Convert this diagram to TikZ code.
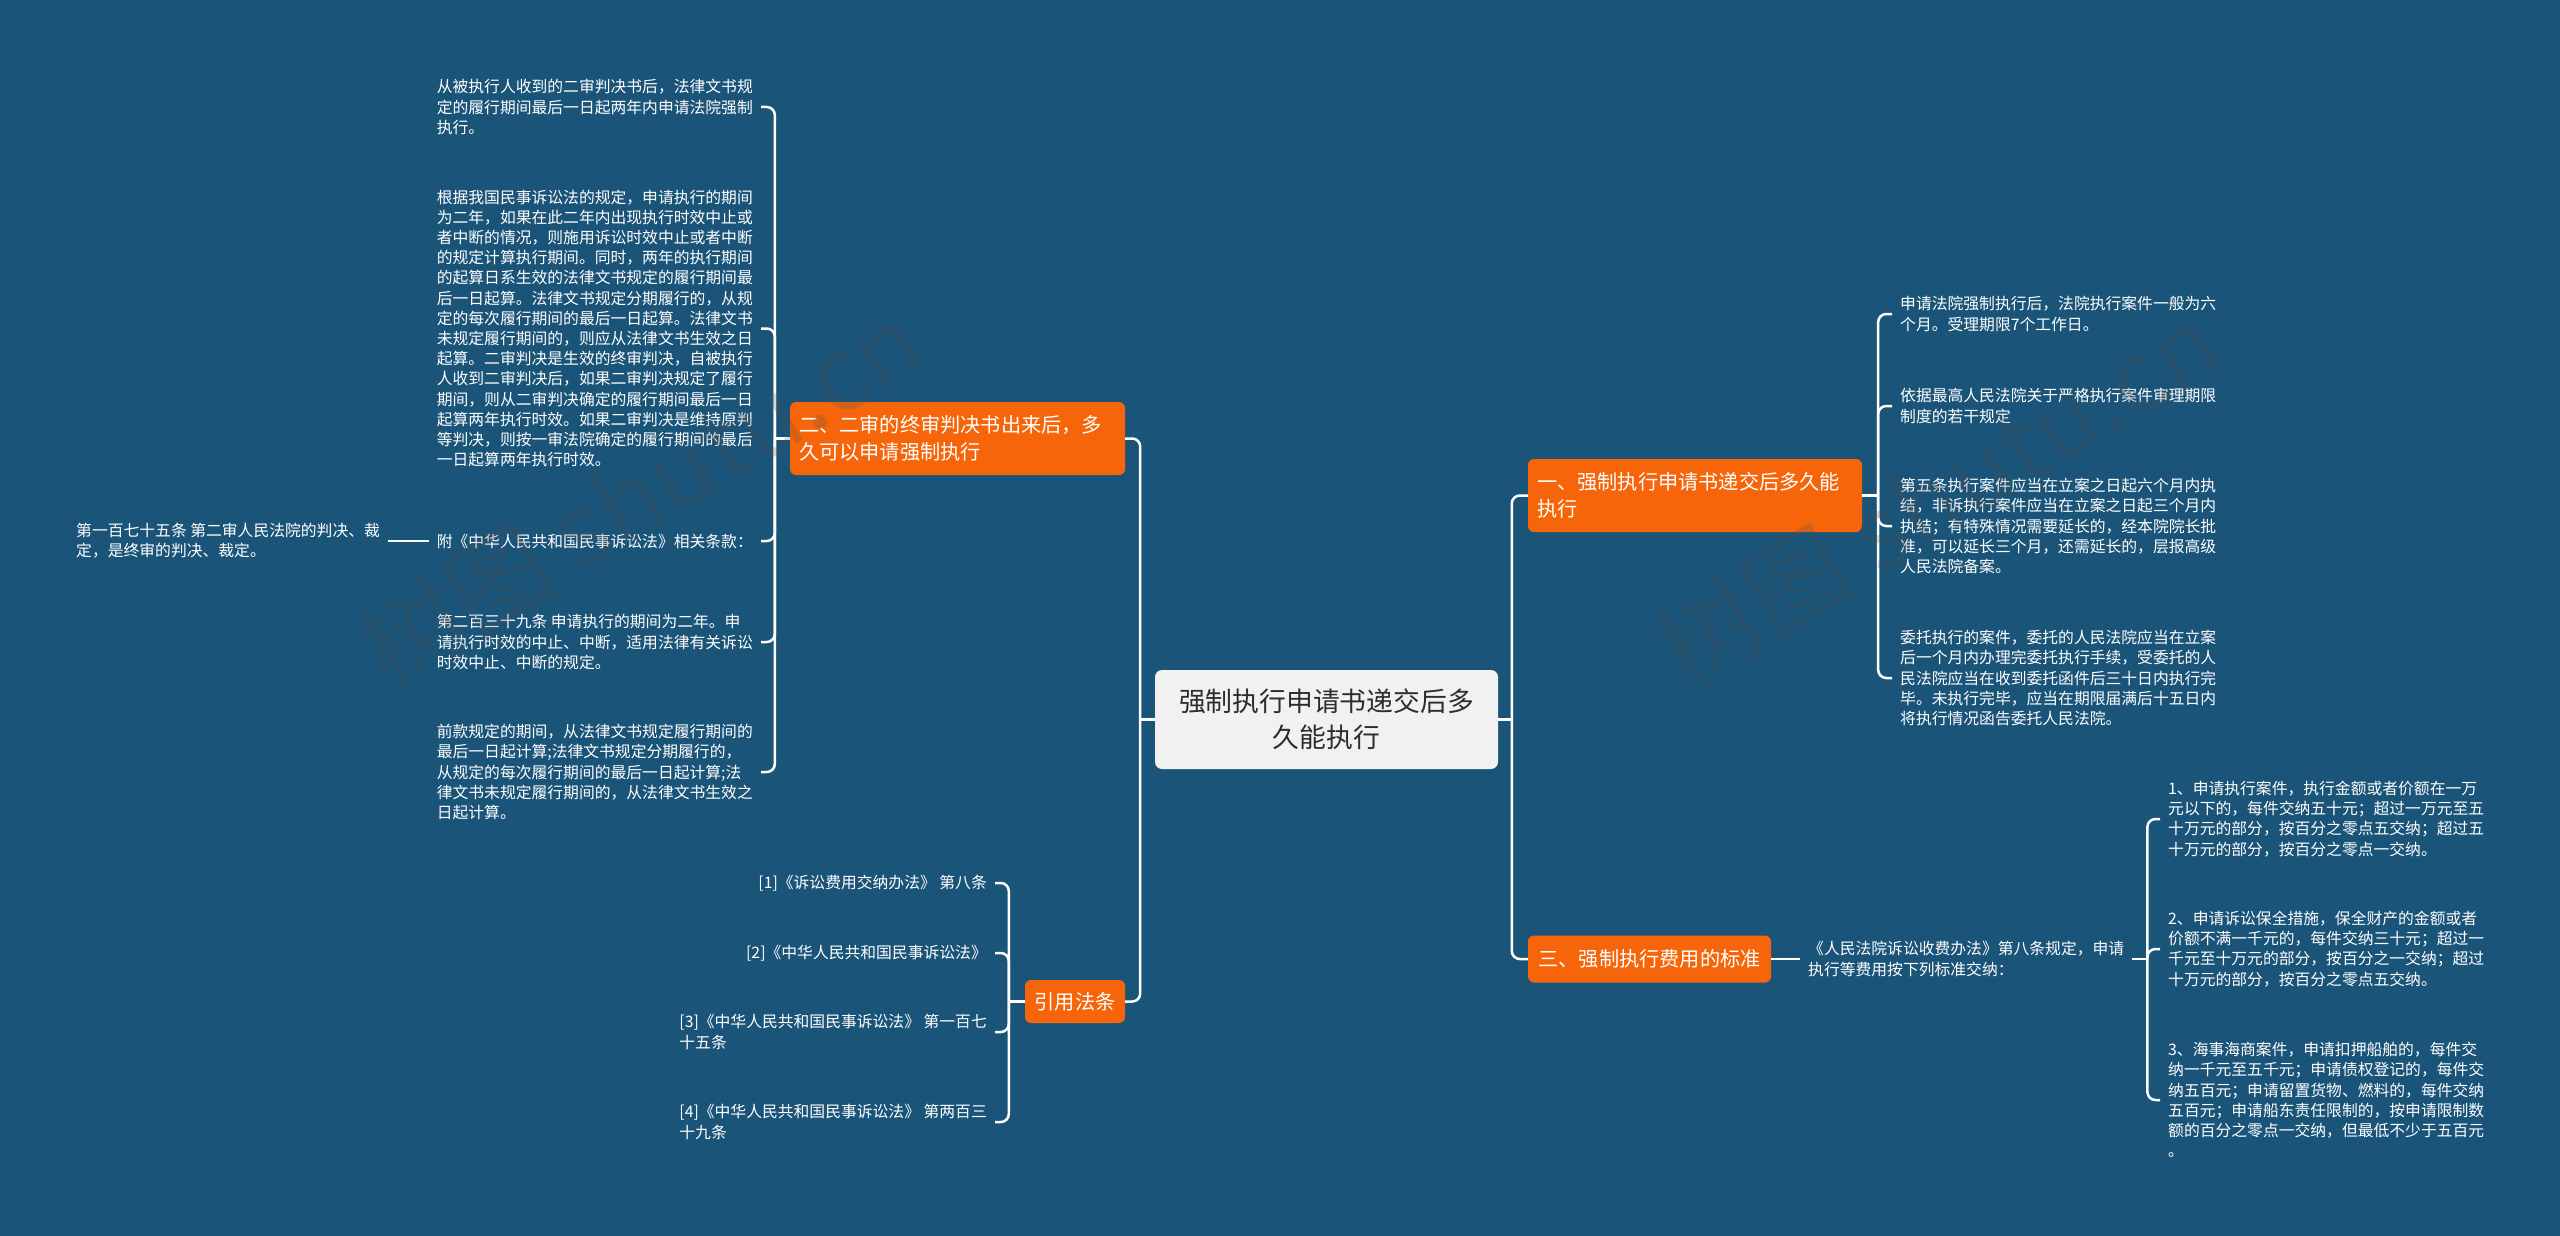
\documentclass[tikz,border=0pt]{standalone}
\usepackage{fontspec}
\setmainfont{Noto Sans CJK SC}
\usepackage{tikz}
\usetikzlibrary{positioning}
\definecolor{bgblue}{RGB}{26,84,121}
\definecolor{branchorange}{RGB}{246,101,10}
\definecolor{rootgray}{RGB}{241,241,241}
\definecolor{rootink}{RGB}{45,45,45}
\definecolor{stampgray}{RGB}{80,80,80}

\tikzset{
  root/.style={fill=rootgray, text=rootink, rounded corners=7pt, align=center,
    font=\fontsize{26.8pt}{36pt}\selectfont, inner sep=0pt},
  branch/.style={fill=branchorange, text=white, rounded corners=6pt, align=left,
    font=\fontsize{20.2pt}{27pt}\selectfont, inner xsep=9pt, inner ysep=0pt},
  leaf/.style={text=white, align=left, font=\fontsize{15.8pt}{20.2pt}\selectfont,
    inner xsep=8pt, inner ysep=0pt},
  link/.style={draw=white, line width=2.5pt, rounded corners=8pt},
  stamp/.style={text=stampgray, opacity=0.22, rotate=31, font=\fontsize{101pt}{101pt}\selectfont},
}

\begin{document}
\begin{tikzpicture}[x=1pt,y=-1pt]
              % background
              \fill[bgblue] (0,0) rectangle (2560,1236);
              % centre and the four branches
              \node[root, minimum width=343pt, minimum height=99pt] (root) at (1326.5,719.5) {强制执行申请书递交后多\\久能执行};
              \node[branch, text width=316pt, minimum height=73pt] (n1) at (1695,495.5) {一、强制执行申请书递交后多久能\\执行};
              \node[branch, minimum width=243pt, minimum height=47pt] (n3) at (1649.5,959) {三、强制执行费用的标准};
              \node[branch, text width=317pt, minimum height=73pt] (n2) at (957.5,438.5) {二、二审的终审判决书出来后，多\\久可以申请强制执行};
              \node[branch, minimum width=100pt, minimum height=43pt] (n4) at (1075,1001.5) {引用法条};
              % leaves of the first branch
              \node[leaf, anchor=west] (a1) at (1892,314) {申请法院强制执行后，法院执行案件一般为六\\个月。受理期限7个工作日。};
              \node[leaf, anchor=west] (a2) at (1892,406) {依据最高人民法院关于严格执行案件审理期限\\制度的若干规定};
              \node[leaf, anchor=west] (a3) at (1892,526) {第五条执行案件应当在立案之日起六个月内执\\结，非诉执行案件应当在立案之日起三个月内\\执结；有特殊情况需要延长的，经本院院长批\\准，可以延长三个月，还需延长的，层报高级\\人民法院备案。};
              \node[leaf, anchor=west] (a4) at (1892,678) {委托执行的案件，委托的人民法院应当在立案\\后一个月内办理完委托执行手续，受委托的人\\民法院应当在收到委托函件后三十日内执行完\\毕。未执行完毕，应当在期限届满后十五日内\\将执行情况函告委托人民法院。};
              % leaves of the third branch
              \node[leaf, anchor=west] (c3) at (1800,959) {《人民法院诉讼收费办法》第八条规定，申请\\执行等费用按下列标准交纳：};
              \node[leaf, anchor=west] (b1) at (2160,819) {1、申请执行案件，执行金额或者价额在一万\\元以下的，每件交纳五十元；超过一万元至五\\十万元的部分，按百分之零点五交纳；超过五\\十万元的部分，按百分之零点一交纳。};
              \node[leaf, anchor=west] (b2) at (2160,949) {2、申请诉讼保全措施，保全财产的金额或者\\价额不满一千元的，每件交纳三十元；超过一\\千元至十万元的部分，按百分之一交纳；超过\\十万元的部分，按百分之零点五交纳。};
              \node[leaf, anchor=west] (b3) at (2160,1100) {3、海事海商案件，申请扣押船舶的，每件交\\纳一千元至五千元；申请债权登记的，每件交\\纳五百元；申请留置货物、燃料的，每件交纳\\五百元；申请船东责任限制的，按申请限制数\\额的百分之零点一交纳，但最低不少于五百元\\。};
              % leaves of the second branch
              \node[leaf, anchor=east] (l1) at (761,107) {从被执行人收到的二审判决书后，法律文书规\\定的履行期间最后一日起两年内申请法院强制\\执行。};
              \node[leaf, anchor=east] (l2) at (761,328.5) {根据我国民事诉讼法的规定，申请执行的期间\\为二年，如果在此二年内出现执行时效中止或\\者中断的情况，则施用诉讼时效中止或者中断\\的规定计算执行期间。同时，两年的执行期间\\的起算日系生效的法律文书规定的履行期间最\\后一日起算。法律文书规定分期履行的，从规\\定的每次履行期间的最后一日起算。法律文书\\未规定履行期间的，则应从法律文书生效之日\\起算。二审判决是生效的终审判决，自被执行\\人收到二审判决后，如果二审判决规定了履行\\期间，则从二审判决确定的履行期间最后一日\\起算两年执行时效。如果二审判决是维持原判\\等判决，则按一审法院确定的履行期间的最后\\一日起算两年执行时效。};
              \node[leaf, anchor=east] (l3) at (761,541) {附《中华人民共和国民事诉讼法》相关条款：};
              \node[leaf, anchor=west] (l0) at (68,541) {第一百七十五条 第二审人民法院的判决、裁\\定，是终审的判决、裁定。};
              \node[leaf, anchor=east] (l4) at (761,642) {第二百三十九条 申请执行的期间为二年。申\\请执行时效的中止、中断，适用法律有关诉讼\\时效中止、中断的规定。};
              \node[leaf, anchor=east] (l5) at (761,772) {前款规定的期间，从法律文书规定履行期间的\\最后一日起计算;法律文书规定分期履行的，\\从规定的每次履行期间的最后一日起计算;法\\律文书未规定履行期间的，从法律文书生效之\\日起计算。};
              % leaves of the fourth branch
              \node[leaf, anchor=east] (r1) at (995,883) {[1]《诉讼费用交纳办法》 第八条};
              \node[leaf, anchor=east] (r2) at (995,953) {[2]《中华人民共和国民事诉讼法》};
              \node[leaf, anchor=east] (r3) at (995,1032) {[3]《中华人民共和国民事诉讼法》 第一百七\\十五条};
              \node[leaf, anchor=east] (r4) at (995,1122) {[4]《中华人民共和国民事诉讼法》 第两百三\\十九条};
              % trunks
              \draw[link] (root.east) -- ++(14,0);
              \draw[link] (n1.west) -- ++(-16,0) |- (n3.west);
              \draw[link] (root.west) -- ++(-15,0);
              \draw[link] (n2.east) -- ++(15,0) |- (n4.east);
              % brackets
              \draw[link] (n1.east) -- ++(16,0) coordinate (n1b);
              \foreach \l in {a1,a2,a3,a4} \draw[link] (n1b) |- (\l.west);
              \draw[link] (n3.east) -- (c3.west);
              \draw[link] (c3.east) -- ++(15,0) coordinate (c3b);
              \foreach \l in {b1,b2,b3} \draw[link] (c3b) |- (\l.west);
              \draw[link] (n2.west) -- ++(-15,0) coordinate (n2b);
              \foreach \l in {l1,l2,l3,l4,l5} \draw[link] (n2b) |- (\l.east);
              \draw[link] (l0.east) -- (l3.west);
              \draw[link] (n4.west) -- ++(-16,0) coordinate (n4b);
              \foreach \l in {r1,r2,r3,r4} \draw[link] (n4b) |- (\l.east);
              % watermarks on top
              \node[stamp] (wm1) at (640,493) {树图 shutu.cn};
              \node[stamp] (wm2) at (1938,495) {树图 shutu.cn};
\end{tikzpicture}
\end{document}
